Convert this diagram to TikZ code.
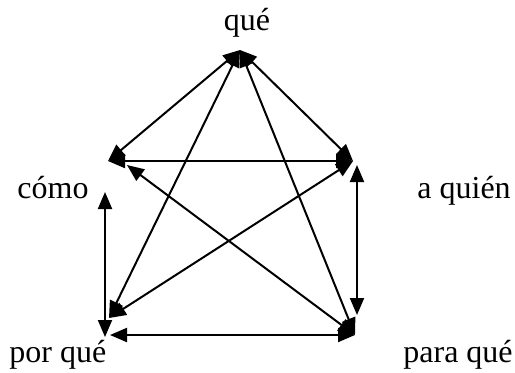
\documentclass[tikz,border=0pt]{standalone}
\usepackage{fontspec}
\setmainfont{Liberation Serif}
\usetikzlibrary{arrows.meta}

\begin{document}
\begin{tikzpicture}[
  x=0.5pt,
  y=-0.5pt,
  >={Triangle[length=8.5pt,width=7pt]},
  link/.style={{Triangle[length=8.5pt,width=7pt]}-{Triangle[length=8.5pt,width=7pt]},line width=1pt},
  word/.style={font=\fontsize{16}{19}\selectfont,inner sep=0pt}
]
\useasboundingbox (0,0) rectangle (515,372);

% Question words
\node[word,anchor=base] (lque) at (247,30) {qué};
\node[word,anchor=base west] (lcomo) at (17,198) {cómo};
\node[word,anchor=base west] (lquien) at (417,198) {a quién};
\node[word,anchor=base west] (lporque) at (9,362) {por qué};
\node[word,anchor=base west] (lparaque) at (403,362) {para qué};

% Corners of the pentagon
\coordinate (que) at (240,50);
\coordinate (como) at (108,161);
\coordinate (quien) at (353,161);
\coordinate (porque) at (109,318);
\coordinate (paraque) at (355,335);

% Arrow ends that sit off the corners
\coordinate (como-d) at (127,165);
\coordinate (como-v) at (105,192);
\coordinate (porque-v) at (105,337);
\coordinate (porque-h) at (110,335);
\coordinate (quien-v) at (357,165);
\coordinate (paraque-v) at (357,315);

% Edges from qué
\draw[link] (que) -- (como);
\draw[link] (que) -- (quien);
\draw[link] (que) -- (porque);
\draw[link] (que) -- (paraque);

% Remaining edges
\draw[link] (como) -- (quien);
\draw[link] (como-d) -- (paraque);
\draw[link] (como-v) -- (porque-v);
\draw[link] (quien) -- (porque);
\draw[link] (quien-v) -- (paraque-v);
\draw[link] (porque-h) -- (paraque);

\end{tikzpicture}
\end{document}
